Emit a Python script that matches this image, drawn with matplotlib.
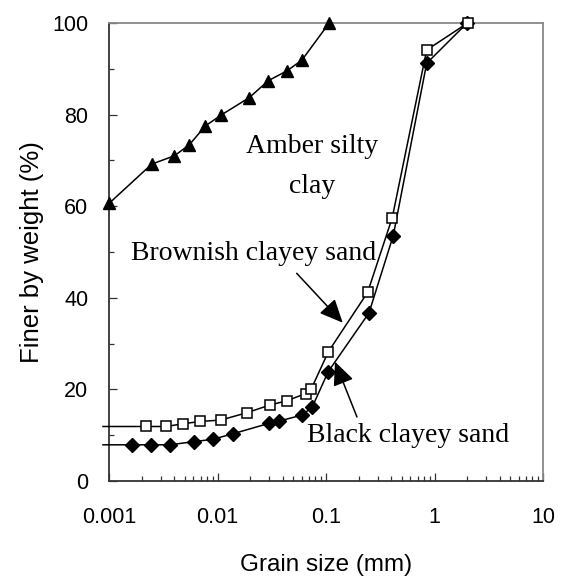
import matplotlib
matplotlib.use("Agg")
import matplotlib.pyplot as plt
from matplotlib.ticker import FixedLocator, LogLocator, NullFormatter

# Amber silty clay (triangles)
AMBER_X = [0.001, 0.00248, 0.0040, 0.0055, 0.0077, 0.0108, 0.0196, 0.0294, 0.044, 0.060, 0.107]
AMBER_Y = [60.6, 69.2, 71.0, 73.4, 77.5, 79.9, 83.7, 87.4, 89.6, 91.9, 100]

# Brownish clayey sand (open squares), first point is where the line starts without marker
BROWN_X = [0.00088, 0.00218, 0.00335, 0.00484, 0.0069, 0.0107, 0.0186, 0.0305, 0.0434,
           0.065, 0.0728, 0.105, 0.242, 0.408, 0.847, 2.02]
BROWN_Y = [11.9, 11.9, 11.9, 12.5, 13.0, 13.3, 14.9, 16.6, 17.5, 19.1, 20.0, 28.2, 41.2,
           57.5, 94.1, 100]

# Black clayey sand (filled diamonds)
BLACK_X = [0.00088, 0.00164, 0.00244, 0.00365, 0.00607, 0.00903, 0.0138, 0.0300, 0.0371,
           0.0605, 0.0748, 0.105, 0.249, 0.417, 0.847, 2.0]
BLACK_Y = [7.9, 7.9, 7.9, 7.9, 8.6, 9.1, 10.3, 12.6, 13.1, 14.4, 16.2, 23.9, 36.7, 53.6,
           91.2, 100]

X_TICKS = [0.001, 0.01, 0.1, 1, 10]
X_TICK_LABELS = ["0.001", "0.01", "0.1", "1", "10"]
Y_TICKS = [0, 20, 40, 60, 80, 100]

SANS = "Liberation Sans"
SERIF = "Liberation Serif"

fig = plt.figure(figsize=(5.63, 5.80), dpi=100)
ax = fig.add_axes([109 / 563, 1 - 481 / 580, 434 / 563, 458 / 580])

ax.plot(BLACK_X, BLACK_Y, color="black", lw=1.1, marker="D", ms=7.5,
        mfc="black", mec="black", markevery=list(range(1, len(BLACK_X))),
        clip_on=False, zorder=3)
ax.plot(BROWN_X, BROWN_Y, color="black", lw=1.1, marker="s", ms=7.2,
        mfc="white", mec="black", mew=1.1, markevery=list(range(1, len(BROWN_X))),
        clip_on=False, zorder=4)
ax.plot(AMBER_X, AMBER_Y, color="black", lw=1.1, marker="^", ms=8.8,
        mfc="black", mec="black", clip_on=False, zorder=3)

ax.set_xscale("log")
ax.set_xlim(0.001, 10)
ax.set_ylim(0, 100)

ax.xaxis.set_major_locator(FixedLocator(X_TICKS))
ax.set_xticklabels(X_TICK_LABELS)
ax.xaxis.set_minor_locator(LogLocator(base=10, subs=range(2, 10)))
ax.xaxis.set_minor_formatter(NullFormatter())
ax.set_yticks(Y_TICKS)
ax.yaxis.set_minor_locator(FixedLocator([10, 30, 50, 70, 90]))

ax.tick_params(axis="both", which="major", direction="in", length=6, width=0.9,
               color="#333333", labelsize=15.5)
ax.tick_params(axis="both", which="minor", direction="in", length=3.8, width=0.9,
               color="#333333")
ax.tick_params(axis="x", which="major", pad=19)
ax.tick_params(axis="y", which="major", pad=15)
for lab in ax.get_xticklabels() + ax.get_yticklabels():
    lab.set_fontfamily(SANS)

for side in ["left", "bottom"]:
    ax.spines[side].set_color("#333333")
    ax.spines[side].set_linewidth(1.3)
for side in ["top", "right"]:
    ax.spines[side].set_color("#888888")
    ax.spines[side].set_linewidth(1.3)

ax.set_xlabel("Grain size (mm)", fontsize=17.5, fontfamily=SANS)
ax.set_ylabel("Finer by weight (%)", fontsize=18.5, fontfamily=SANS)
ax.xaxis.set_label_coords(0.5, -0.160)
ax.yaxis.set_label_coords(-0.150, 0.5)

# annotations
ax.text(0.0743, 71.6, "Amber silty", fontsize=20, fontfamily=SERIF, ha="center", va="baseline")
ax.text(0.0743, 62.9, "clay", fontsize=20, fontfamily=SERIF, ha="center", va="baseline")
ax.text(0.0016, 48.25, "Brownish clayey sand", fontsize=20, fontfamily=SERIF,
        ha="left", va="baseline", zorder=2)
ax.text(0.0668, 8.5, "Black clayey sand", fontsize=20, fontfamily=SERIF,
        ha="left", va="baseline", zorder=2)

arrow = dict(arrowstyle="-|>,head_length=14.4,head_width=6.5", mutation_scale=1,
             color="black", lw=1.1, shrinkA=0, shrinkB=0)
ax.annotate("", xy=(0.1426, 34.56), xytext=(0.0537, 45.35), arrowprops=arrow)
ax.annotate("", xy=(0.121, 26.05), xytext=(0.193, 13.97), arrowprops=arrow)

fig.savefig("out.png", dpi=100)
